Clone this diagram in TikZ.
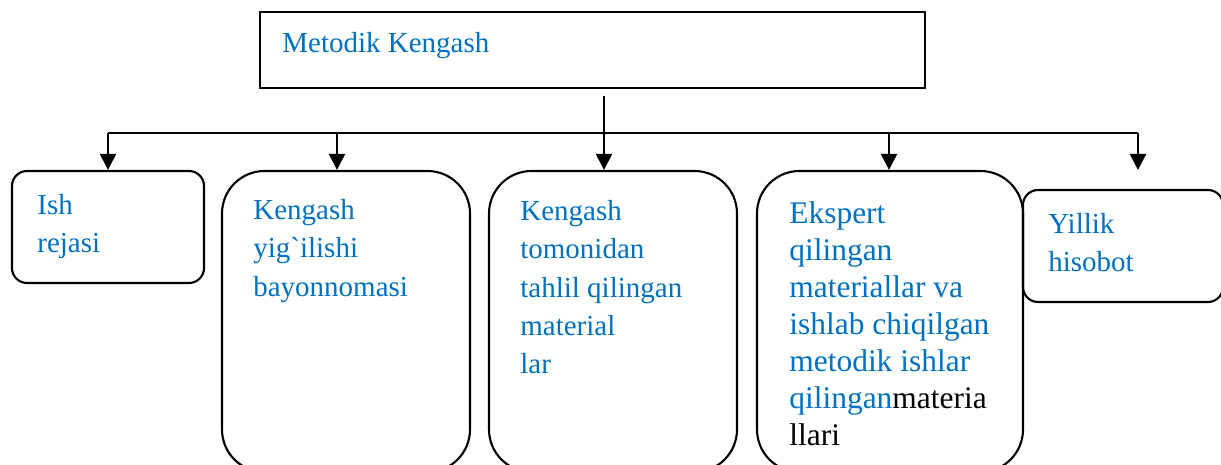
\documentclass[tikz,border=0pt]{standalone}
\usepackage{fontspec}
\setmainfont{Liberation Serif}
\usepackage{xcolor}
\usepackage{tikz}
\usetikzlibrary{positioning,arrows.meta,calc}
\definecolor{kblue}{HTML}{0070C0}
\tikzset{
  every node/.style={font=\fontsize{16.5}{21.8}\selectfont},
  headbox/.style={
    rectangle, draw=black, line width=1.2pt,
    minimum width=13.3cm, minimum height=1.52cm
  },
  smallbox/.style={
    rectangle, rounded corners=0.3cm,
    draw=black, line width=1.2pt,
    minimum width=3.84cm, minimum height=2.24cm
  },
  tallbox/.style={
    rectangle, rounded corners=0.85cm,
    draw=black, line width=1.2pt,
    minimum width=4.96cm, minimum height=6.02cm
  },
  boxtext/.style={
    anchor=north west, inner sep=0pt,
    align=left, text=kblue
  },
  arrow/.style={
    -{Triangle[length=0.32cm,width=0.32cm]},
    line width=1.2pt, draw=black
  },
}

\begin{document}
\begin{tikzpicture}
  \useasboundingbox (0,0) rectangle (24.42,-9.30);
  % top box
  \node[headbox] (kengash) at (11.85,-1.00) {};
  \node[boxtext] (kengashtxt) at (5.64,-0.64) {Metodik Kengash};
  % lower boxes
  \node[smallbox] (reja) at (2.16,-4.54) {};
  \node[boxtext] (rejatxt) at (0.74,-3.88) {Ish\\rejasi};
  \node[tallbox] (bayon) at (6.92,-6.43) {};
  \node[boxtext] (bayontxt) at (5.06,-3.98) {Kengash\\yig\textasciigrave ilishi\\bayonnomasi};
  \node[tallbox] (tahlil) at (12.26,-6.43) {};
  \node[boxtext] (tahliltxt) at (10.40,-4.00) {Kengash\\tomonidan\\tahlil qilingan\\material\\lar};
  \node[tallbox, minimum width=5.32cm] (ekspert) at (17.80,-6.43) {};
  \node[boxtext, font=\fontsize{17.9}{21}\selectfont] (eksperttxt) at (15.78,-4.03)
    {Ekspert\\qilingan\\materiallar va\\ishlab chiqilgan\\metodik ishlar\\qilingan{\color{black}materia}\\{\color{black}llari}};
  \node[smallbox, minimum width=4.0cm] (hisobot) at (22.46,-4.92) {};
  \node[boxtext] (hisobottxt) at (20.96,-4.26) {Yillik\\hisobot};
  % connectors
  \coordinate (trunk) at (12.08,-1.92);
  \coordinate (jreja) at (2.16,-2.66);
  \coordinate (jbayon) at (6.74,-2.66);
  \coordinate (jekspert) at (17.78,-2.66);
  \coordinate (jhisobot) at (22.76,-2.66);
  \coordinate (hisend) at (22.76,-3.40);
  \draw[line width=1.2pt] (jreja) -- (jhisobot);
  \draw[arrow] (trunk) -- (trunk |- tahlil.north);
  \draw[arrow] (jreja) -- (reja.north);
  \draw[arrow] (jbayon) -- (jbayon |- bayon.north);
  \draw[arrow] (jekspert) -- (jekspert |- ekspert.north);
  \draw[arrow] (jhisobot) -- (hisend);
\end{tikzpicture}
\end{document}
